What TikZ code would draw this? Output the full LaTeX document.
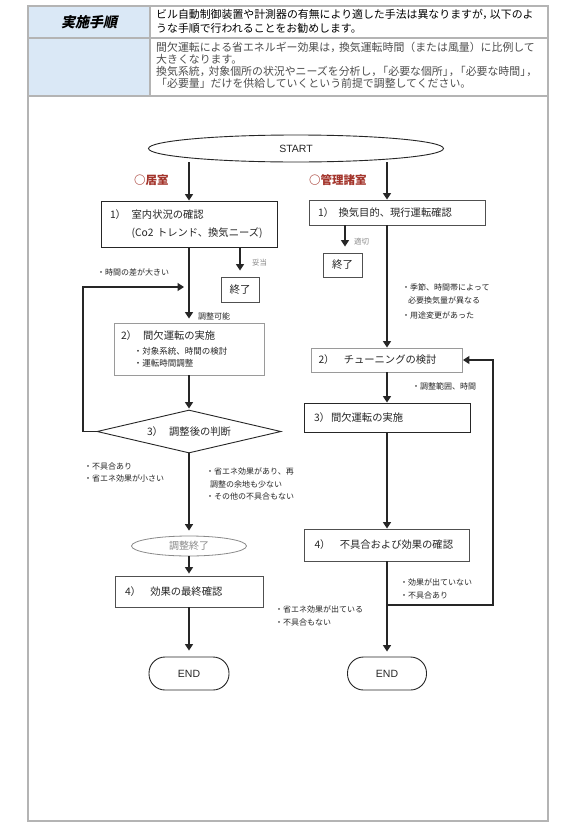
\documentclass[tikz,border=0pt]{standalone}
\usepackage{fontspec}
\setmainfont{Noto Sans CJK JP}
\newfontfamily\headfont[FakeSlant=0.22]{Noto Sans CJK JP}
\newfontfamily\latinfont{Liberation Sans}
\usetikzlibrary{shapes.geometric,arrows.meta,calc}
\setlength{\parindent}{0pt}
\definecolor{frame}{HTML}{B4B4B4}
\definecolor{headbg}{HTML}{DAE8F6}
\definecolor{roomred}{HTML}{A3342B}
\definecolor{ink}{HTML}{262626}
\definecolor{softgray}{HTML}{8A8A8A}
\definecolor{notegray}{HTML}{4E4E4E}
\definecolor{boxgray}{HTML}{9A9A9A}
\definecolor{boxdark}{HTML}{505050}
\begin{document}
\begin{tikzpicture}[x=1pt,y=-1pt,
  ln/.style={draw=ink,line width=1.4pt},
  arr/.style={ln,-{Triangle[width=8pt,length=6.5pt]}},
  box/.style={draw=#1,line width=0.9pt,fill=white,rectangle,inner ysep=0pt,align=left,text=ink,font=\fontsize{10.3}{15}\selectfont},
  smallbox/.style={draw=boxdark,line width=0.9pt,fill=white,rectangle,inner sep=0pt,text=ink,font=\fontsize{10.5}{12}\selectfont},
  lab/.style={inner sep=0pt,anchor=west,align=left,text=ink,font=\fontsize{8}{12.5}\selectfont},
  softlab/.style={lab,text=softgray,font=\fontsize{7.5}{9}\selectfont},
  room/.style={inner sep=0pt,anchor=west,text=roomred,font=\bfseries\fontsize{11.5}{12}\selectfont},
  term/.style={draw=ink,line width=0.9pt,fill=white,rounded corners=16pt,inner sep=0pt,font=\latinfont\fontsize{10.5}{12}\selectfont,text=ink}
]
\useasboundingbox (0,0) rectangle (580,830);
\fill[white] (0,0) rectangle (580,830);

% header table
\fill[headbg] (28,6) rectangle (150,96);
\draw[frame,line width=1.3pt] (28,38) -- (548,38);
\draw[frame,line width=1.3pt] (28,96) -- (548,96);
\draw[frame,line width=1.3pt] (150,6) -- (150,96);
\draw[frame,line width=1.3pt] (28,6) rectangle (548,821);
\node[font=\headfont\bfseries\fontsize{14}{14}\selectfont,text=black] (title) at (89,22) {実施手順};
\node[anchor=west,align=left,inner sep=0pt,text=black,font=\fontsize{10.9}{13.5}\selectfont] (intro) at (156,21.5)
 {ビル自動制御装置や計測器の有無により適した手法は異なりますが，\kern-.3em以下のよ\\うな手順で行われることをお勧めします。};
\node[anchor=west,align=left,inner sep=0pt,text=notegray,font=\fontsize{10.9}{12.2}\selectfont] (note) at (156,65.5)
 {間欠運転による省エネルギー効果は，\kern-.2em換気運転時間（または風量）に比例して\\大きくなります。\\換気系統，\kern-.2em対象個所の状況やニーズを分析し，\kern-.45em「必要な個所」\kern-.45em，\kern-.45em「必要な時間」\kern-.45em，\\「必要量」だけを供給していくという前提で調整してください。};

% start
\node[ellipse,draw=ink,line width=0.9pt,fill=white,minimum width=295,minimum height=27,inner sep=0pt,font=\latinfont\fontsize{10.5}{12}\selectfont,text=ink] (START) at (296,148.5) {START};
\node[room] (roomA) at (134,180) {○居室};
\node[room] (roomB) at (309,180) {○管理諸室};

% left column
\node[box=ink,minimum width=176,text width=158,inner xsep=9,minimum height=46,font=\fontsize{10.3}{18}\selectfont] (L1) at (189,224)
 {1）\hspace{0.55em}室内状況の確認\\\hspace*{2.1em}(Co2~トレンド、換気ニーズ)};
\node[smallbox,minimum width=38,minimum height=25] (endL1) at (240,289.5) {終了};
\node[box=boxgray,minimum width=150,text width=136,inner xsep=7,minimum height=52] (L2) at (189,349)
 {2）\hspace{0.6em}間欠運転の実施\par\vspace{3pt}{\fontsize{8.5}{12}\selectfont\hspace*{1.5em}・対象系統、時間の検討\par\hspace*{1.5em}・運転時間調整\par}};
\node[diamond,aspect=4.3,draw=ink,line width=0.9pt,fill=white,minimum width=184,minimum height=43,inner sep=0pt,font=\fontsize{10.3}{12}\selectfont,text=ink] (D) at (189,431.5) {3）\hspace{0.6em}調整後の判断};
\node[ellipse,draw=softgray,line width=0.8pt,fill=white,minimum width=115,minimum height=20,inner sep=0pt,text=softgray,font=\fontsize{10}{12}\selectfont] (E) at (189,546) {調整終了};
\node[box=boxdark,minimum width=148,text width=128,inner xsep=10,minimum height=31] (L4) at (189,591.5) {4）\hspace{0.9em}効果の最終確認};
\node[term,minimum width=80,minimum height=33] (endA) at (189,673.5) {END};

% right column
\node[box=boxdark,minimum width=176,text width=158,inner xsep=9,minimum height=25] (R1) at (397,212.5) {1）\hspace{0.45em}換気目的、現行運転確認};
\node[smallbox,minimum width=39,minimum height=24] (endR1) at (342.5,265) {終了};
\node[box=boxgray,minimum width=151,text width=137,inner xsep=7,minimum height=24] (R2) at (387,360) {2）\hspace{0.9em}チューニングの検討};
\node[box=ink,minimum width=166,text width=146,inner xsep=10,minimum height=29] (R3) at (387,417.5) {3）\hspace{0.1em}間欠運転の実施};
\node[box=boxdark,minimum width=165,text width=145,inner xsep=10,minimum height=32] (R4) at (387,545) {4）\hspace{0.9em}不具合および効果の確認};
\node[term,minimum width=79,minimum height=33] (endB) at (387,673.5) {END};

% labels
\node[softlab] (tDatou) at (252,263) {妥当};
\node[softlab] (tTekisetsu) at (354,242) {適切};
\node[lab] (tDiff) at (97,272) {・時間の差が大きい};
\node[lab] (tKanou) at (198,316) {調整可能};
\node[lab] (tNG) at (84,472.5) {・不具合あり\\・省エネ効果が小さい};
\node[lab] (tOK) at (206,484) {・省エネ効果があり、再\\\hspace*{0.5em}調整の余地も少ない\\・その他の不具合もない};
\node[lab] (tSeason) at (402,294) {・季節、時間帯によって\\\hspace*{0.75em}必要換気量が異なる};
\node[lab] (tUse) at (402,315) {・用途変更があった};
\node[lab] (tRange) at (412,386) {・調整範囲、時間};
\node[lab] (tBad) at (400,589) {・効果が出ていない\\・不具合あり};
\node[lab] (tGood) at (275,616) {・省エネ効果が出ている\\・不具合もない};

% connectors left
\draw[arr] (START.south -| L1.north) -- (L1.north);
\draw[arr,shorten >=4pt] (L1.south) -- (L2.north);
\draw[arr,shorten >=6pt] (L1.south -| endL1.north) -- (endL1.north);
\draw[arr,shorten >=1pt] (L2.south) -- (D.north);
\coordinate (loopL) at (83,287);
\coordinate (loopE) at (184,287);
\draw[arr] (D.west) -- (D.west -| loopL) -- (loopL) -- (loopE);
\draw[arr,shorten >=5pt] (D.south) -- (E.north);
\draw[arr,shorten >=2pt] (E.south) -- (L4.north);
\draw[arr,shorten >=6pt] (L4.south) -- (endA.north);

% connectors right
\draw[arr] (START.south -| R2.north) -- (R1.north -| R2.north);
\draw[arr,shorten >=6pt] (R1.south -| 345,0) -- (endR1.north -| 345,0);
\draw[arr] (R1.south -| R2.north) -- (R2.north);
\draw[arr] (R2.south) -- (R3.north);
\draw[arr] (R3.south) -- (R4.north);
\draw[arr,shorten >=5pt] (R4.south) -- (endB.north);
\coordinate (fb) at (387,605);
\coordinate (fbR) at (493,605);
\draw[arr] (fb) -- (fbR) |- (R2.east);
\end{tikzpicture}
\end{document}
